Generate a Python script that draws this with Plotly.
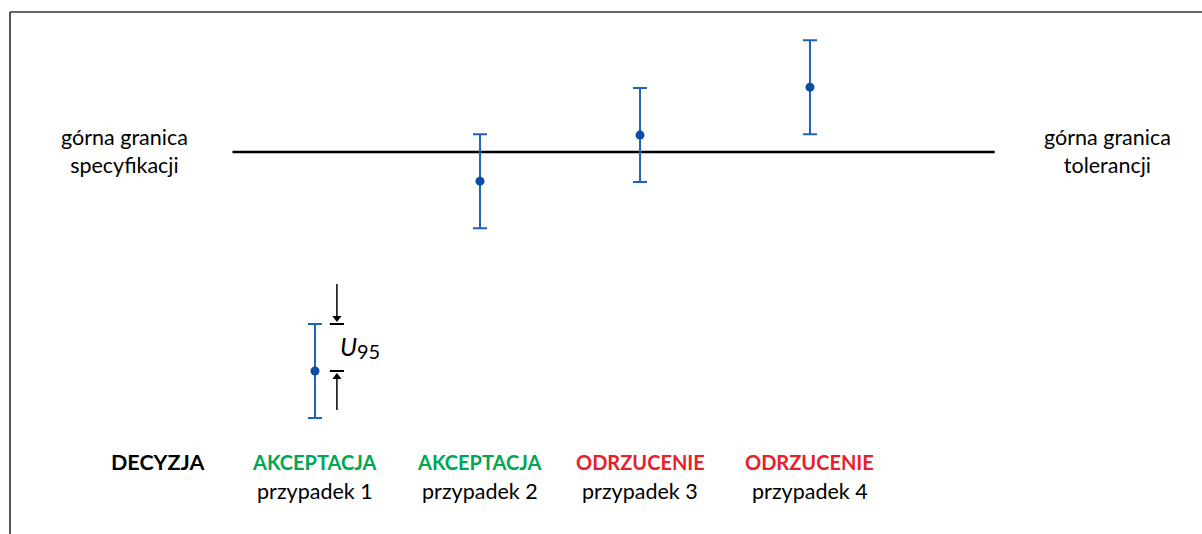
import plotly.graph_objects as go

# ---- data ----
case_pos = [1.0, 2.0, 2.97, 4.0]
case_labels = ["przypadek 1", "przypadek 2", "przypadek 3", "przypadek 4"]
decisions = ["AKCEPTACJA", "AKCEPTACJA", "ODRZUCENIE", "ODRZUCENIE"]
decision_colors = ["#00A650", "#00A650", "#E8202A", "#E8202A"]
measured = [-4.66, -0.62, 0.36, 1.38]
U95 = [1.0, 1.0, 1.0, 1.0]
upper_limit = 0.0
limit_x = [0.50, 5.12]

FONT = "Lato"
BLUE_BAR = "#1F62B8"
BLUE_PT = "#0A4DA2"

fig = go.Figure()

# limit line
fig.add_trace(go.Scatter(
    x=limit_x, y=[upper_limit, upper_limit], mode="lines",
    line=dict(color="black", width=2.5), hoverinfo="skip", showlegend=False))

# measurements with U95 error bars
fig.add_trace(go.Scatter(
    x=case_pos, y=measured, mode="markers",
    marker=dict(color=BLUE_PT, size=9),
    error_y=dict(type="data", array=U95, color=BLUE_BAR, thickness=2, width=7),
    showlegend=False))

# U95 annotation next to case 1
ux = case_pos[0] + 0.133
top = measured[0] + U95[0]
mid = measured[0]
cap_half = 0.043
for yy in (top, mid):
    fig.add_shape(type="line", x0=ux - cap_half, x1=ux + cap_half, y0=yy, y1=yy,
                  xref="x", yref="y", line=dict(color="black", width=2))
# arrows: shafts + heads
fig.add_trace(go.Scatter(x=[ux, ux], y=[top + 0.85, top + 0.14], mode="lines",
                         line=dict(color="black", width=1.5), hoverinfo="skip"))
fig.add_trace(go.Scatter(x=[ux], y=[top + 0.13], mode="markers",
                         marker=dict(symbol="triangle-down", size=8, color="black"),
                         hoverinfo="skip"))
fig.add_trace(go.Scatter(x=[ux, ux], y=[mid - 0.83, mid - 0.14], mode="lines",
                         line=dict(color="black", width=1.5), hoverinfo="skip"))
fig.add_trace(go.Scatter(x=[ux], y=[mid - 0.13], mode="markers",
                         marker=dict(symbol="triangle-up", size=8, color="black"),
                         hoverinfo="skip"))
fig.add_annotation(x=ux + 0.006, y=(top + mid) / 2 + 0.03, xref="x", yref="y",
                   text="<i>U</i>", showarrow=False, xanchor="left",
                   font=dict(family=FONT, size=25, color="black"))
fig.add_annotation(x=ux + 0.107, y=(top + mid) / 2 - 0.08, xref="x", yref="y",
                   text="95", showarrow=False, xanchor="left",
                   font=dict(family=FONT, size=20, color="black"))

# side labels
fig.add_annotation(x=-0.157, y=upper_limit + 0.02, xref="x", yref="y",
                   text="górna granica<br>specyfikacji", showarrow=False,
                   font=dict(family=FONT, size=21.5, color="black"))
fig.add_annotation(x=5.805, y=upper_limit + 0.02, xref="x", yref="y",
                   text="górna granica<br>tolerancji", showarrow=False,
                   font=dict(family=FONT, size=21.5, color="black"))

# decision labels
fig.add_annotation(x=0.05, y=-6.59, xref="x", yref="y", text="<b>DECYZJA</b>",
                   showarrow=False, font=dict(family=FONT, size=21.5, color="black"))
for xp, d, c, lab in zip(case_pos, decisions, decision_colors, case_labels):
    fig.add_annotation(x=xp, y=-6.59, xref="x", yref="y", text=f"<b>{d}</b>",
                       showarrow=False, font=dict(family=FONT, size=20, color=c))
    fig.add_annotation(x=xp, y=-7.21, xref="x", yref="y", text=lab,
                       showarrow=False, font=dict(family=FONT, size=21.5, color="black"))

# frame lines (top and left)
fig.add_shape(type="line", xref="paper", yref="paper", x0=10 / 1202, x1=1,
              y0=1 - 12 / 534, y1=1 - 12 / 534, line=dict(color="#666666", width=2))
fig.add_shape(type="line", xref="paper", yref="paper", x0=10 / 1202, x1=10 / 1202,
              y0=0, y1=1 - 12 / 534, line=dict(color="#555555", width=2))

fig.update_layout(
    width=1202, height=534,
    margin=dict(l=0, r=0, t=0, b=0),
    paper_bgcolor="white", plot_bgcolor="white",
    xaxis=dict(range=[-0.909, 6.376], visible=False, fixedrange=True),
    yaxis=dict(range=[-8.128, 3.234], visible=False, fixedrange=True),
    showlegend=False,
)

fig.write_html("out.html", config={"displayModeBar": False},
               post_script="document.body.style.margin='0';document.body.style.overflow='hidden';")
